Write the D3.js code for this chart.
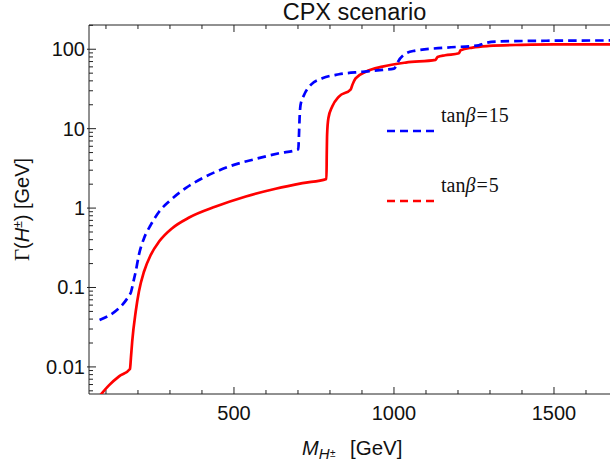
<!DOCTYPE html>
<html>
<head>
<meta charset="utf-8">
<script src="https://cdn.jsdelivr.net/npm/d3@7"></script>
<style>
 body { margin: 0; background: #fff; }
 text { font-family: "Liberation Sans", Arial, sans-serif; fill: #111; }
 .serif { font-family: "Liberation Serif", "Times New Roman", serif; }
</style>
</head>
<body>
<svg id="chart" width="610" height="469"></svg>
<script>
 // tanb = 15 (blue, dashed)
 let massTan15 = [80, 177, 186, 193, 203, 219, 240, 266, 297, 349, 412, 484, 568, 641, 701,
                  703, 705, 708, 719, 740, 776, 828, 901, 964, 1000, 1008, 1013, 1029, 1060,
                  1165, 1265, 1280, 1321, 1477, 1675];
 let widthTan15 = [0.039, 0.085, 0.12, 0.159, 0.258, 0.418, 0.614, 0.90, 1.21, 1.78, 2.5, 3.33, 4.16, 4.9, 5.5,
                   8, 13.5, 19.9, 26.6, 35.6, 43, 48.4, 52, 55, 57, 63, 70, 84, 95,
                   105, 112, 118, 125, 128, 129];

 // tanb = 5 (red, solid)
 let massTan5 = [80, 110, 141, 175, 178, 182, 193, 203, 219, 240, 266, 307, 360, 443, 537, 630, 714,
                 789, 790, 791, 795, 807, 828, 865, 870, 880, 912, 964, 1037, 1130, 1136, 1160,
                 1203, 1208, 1245, 1297, 1400, 1500, 1675];
 let widthTan5 = [0.0043, 0.0059, 0.0076, 0.0094, 0.013, 0.0209, 0.0498, 0.089, 0.159, 0.258, 0.379, 0.558, 0.76, 1.045, 1.40, 1.75, 2.06,
                  2.33, 5, 8.4, 13.5, 19, 25.4, 31.3, 35.6, 43, 52, 60.5, 68, 73.4, 80, 84,
                  89, 97, 105, 110, 113.5, 115, 115];

 let xTickValues = [500, 1000, 1500];
 let xMinorTicks = d3.range(100, 1700, 100);
 let yTickValues = [0.01, 0.1, 1, 10, 100];
 let yTickLabels = ["0.01", "0.1", "1", "10", "100"];
 let legendValues = ["15", "5"];

 let chart = d3.select("svg#chart");

 let plot = {left: 89, right: 610, top: 25, bottom: 394};

 const xScale = d3.scaleLinear().domain([47, 1675]).range([plot.left, plot.right]);
 const yScale = d3.scaleLog().domain([0.00456, 202]).range([plot.bottom, plot.top]);

 const frameColor = "#222";
 const majorLen = 7, minorLen = 4;

 // minor ticks on the log axis: 2..9 in each decade
 let yMinorTicks = [];
 for (let p = -3; p <= 2; p++) {
     for (let k = 2; k <= 9; k++) {
         let v = k * Math.pow(10, p);
         if (v > yScale.domain()[0] && v < yScale.domain()[1]) yMinorTicks.push(v);
     }
 }

 chart.append("defs").append("clipPath").attr("id", "plotclip")
      .append("rect")
      .attr("x", plot.left).attr("y", plot.top)
      .attr("width", plot.right - plot.left).attr("height", plot.bottom - plot.top);

 let frame = chart.append("g").attr("id", "frame");

 // frame lines (right side is cut off in the picture)
 frame.append("path")
      .attr("d", `M${plot.right + 1},${plot.top}H${plot.left}V${plot.bottom}H${plot.right + 1}`)
      .attr("fill", "none").attr("stroke", frameColor).attr("stroke-width", 1);

 // bottom / top ticks, pointing inward
 let xTicks = xMinorTicks.map(v => ({v: v, major: xTickValues.includes(v)}));
 frame.selectAll("line.xb").data(xTicks).join("line").attr("class", "xb")
      .attr("x1", d => xScale(d.v)).attr("x2", d => xScale(d.v))
      .attr("y1", plot.bottom).attr("y2", d => plot.bottom - (d.major ? majorLen : minorLen))
      .attr("stroke", frameColor).attr("stroke-width", 1);
 frame.selectAll("line.xt").data(xTicks).join("line").attr("class", "xt")
      .attr("x1", d => xScale(d.v)).attr("x2", d => xScale(d.v))
      .attr("y1", plot.top).attr("y2", d => plot.top + (d.major ? majorLen : minorLen))
      .attr("stroke", frameColor).attr("stroke-width", 1);

 // left ticks
 frame.selectAll("line.ymaj").data(yTickValues).join("line").attr("class", "ymaj")
      .attr("x1", plot.left - 2).attr("x2", plot.left + majorLen)
      .attr("y1", d => yScale(d)).attr("y2", d => yScale(d))
      .attr("stroke", frameColor).attr("stroke-width", 1);
 frame.selectAll("line.ymin").data(yMinorTicks).join("line").attr("class", "ymin")
      .attr("x1", plot.left).attr("x2", plot.left + minorLen)
      .attr("y1", d => yScale(d)).attr("y2", d => yScale(d))
      .attr("stroke", frameColor).attr("stroke-width", 1);

 // tick labels
 frame.selectAll("text.xl").data(xTickValues).join("text").attr("class", "xl")
      .attr("x", d => xScale(d)).attr("y", 420)
      .attr("text-anchor", "middle").attr("font-size", "20px")
      .text(d => d);
 frame.selectAll("text.yl").data(yTickValues).join("text").attr("class", "yl")
      .attr("x", 85).attr("y", d => yScale(d) + 7)
      .attr("text-anchor", "end").attr("font-size", "20px")
      .text((d, i) => yTickLabels[i]);

 // title
 chart.append("text")
      .attr("x", (plot.left + 620) / 2).attr("y", 20)
      .attr("text-anchor", "middle").attr("font-size", "23.5px")
      .text("CPX scenario");

 // x axis label: M_{H±}  [GeV]
 let xLabel = chart.append("text").attr("x", 302).attr("y", 455).attr("font-size", "20px");
 xLabel.append("tspan").attr("font-style", "italic").text("M");
 xLabel.append("tspan").attr("font-style", "italic").attr("font-size", "15px").attr("dy", 4).text("H");
 xLabel.append("tspan").attr("font-size", "10px").attr("dy", -2).attr("dx", 0.5).text("±");
 xLabel.append("tspan").attr("x", 350).attr("dy", -2).attr("font-size", "20.5px").text("[GeV]");

 // y axis label: Γ(H±) [GeV]
 let yLabel = chart.append("text")
      .attr("transform", `translate(28.5,${(plot.top + plot.bottom) / 2}) rotate(-90)`)
      .attr("text-anchor", "middle").attr("font-size", "20px");
 yLabel.append("tspan").attr("class", "serif").attr("font-size", "21px").text("Γ");
 yLabel.append("tspan").text("(");
 yLabel.append("tspan").attr("font-style", "italic").text("H");
 yLabel.append("tspan").attr("font-size", "12px").attr("dy", -7).text("±");
 yLabel.append("tspan").attr("dy", 7).text(") [GeV]");

 // curves
 let curveArea = chart.append("g").attr("id", "curves").attr("clip-path", "url(#plotclip)");
 let line = d3.line().x(d => xScale(d[0])).y(d => yScale(d[1])).curve(d3.curveMonotoneX);

 let pointsTan15 = massTan15.map((m, i) => [m, widthTan15[i]]);
 let pointsTan5 = massTan5.map((m, i) => [m, widthTan5[i]]);

 curveArea.append("path").datum(pointsTan5)
      .attr("d", line).attr("fill", "none")
      .attr("stroke", "#f00").attr("stroke-width", 2.7)
      .attr("stroke-linejoin", "round");
 curveArea.append("path").datum(pointsTan15)
      .attr("d", line).attr("fill", "none")
      .attr("stroke", "#00f").attr("stroke-width", 2.7)
      .attr("stroke-dasharray", "8.5,5");

 // legend
 let legendColors = ["#00f", "#f00"];
 let legendLineY = [131, 201];
 let legend = chart.append("g").attr("id", "legend");
 legendValues.forEach((v, i) => {
     legend.append("line")
         .attr("x1", 387).attr("x2", 435)
         .attr("y1", legendLineY[i]).attr("y2", legendLineY[i])
         .attr("stroke", legendColors[i]).attr("stroke-width", 2.7)
         .attr("stroke-dasharray", "8,5");
     let t = legend.append("text").attr("class", "serif")
         .attr("x", 441).attr("y", legendLineY[i] - 9)
         .attr("font-size", "20px");
     t.append("tspan").text("tan");
     t.append("tspan").attr("font-style", "italic").text("β");
     t.append("tspan").attr("dx", 1).text("=");
     t.append("tspan").attr("dx", 1).text(v);
 });
</script>
</body>
</html>
